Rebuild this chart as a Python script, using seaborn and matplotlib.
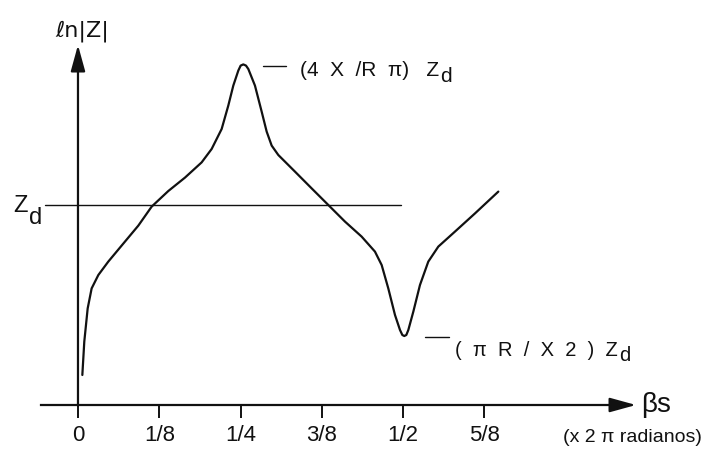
import matplotlib
matplotlib.use("Agg")
import matplotlib.pyplot as plt
import seaborn as sns
import pandas as pd

# Impedance magnitude along the line (beta*s in units of 2*pi radians)
beta_s = [0.0067, 0.0097, 0.0149, 0.0210, 0.0313, 0.0466, 0.0671, 0.0928, 0.1133, 0.1389,
          0.1645, 0.1901, 0.2055, 0.2209, 0.2311, 0.2388, 0.2465, 0.2501, 0.2542, 0.2583,
          0.2619, 0.2721, 0.2824, 0.2901, 0.2978, 0.3080, 0.3336, 0.3593, 0.3849, 0.4105,
          0.4361, 0.4566, 0.4669, 0.4771, 0.4874, 0.4951, 0.4987, 0.5017, 0.5048, 0.5079,
          0.5156, 0.5258, 0.5386, 0.5540, 0.5796, 0.6104, 0.6463]
ln_z = [0.150, 0.317, 0.483, 0.583, 0.650, 0.717, 0.797, 0.897, 0.992, 1.070,
        1.137, 1.213, 1.280, 1.380, 1.497, 1.597, 1.672, 1.697, 1.703, 1.697,
        1.680, 1.597, 1.467, 1.367, 1.297, 1.250, 1.167, 1.083, 1.000, 0.917,
        0.842, 0.767, 0.700, 0.583, 0.450, 0.375, 0.350, 0.345, 0.350, 0.375,
        0.467, 0.600, 0.717, 0.792, 0.867, 0.958, 1.067]

zd_level = 1.0
tick_pos = [0, 1/8, 1/4, 3/8, 1/2, 5/8]
tick_labels = ["0", "1/8", "1/4", "3/8", "1/2", "5/8"]

sns.set_style("white")
plt.rcParams["font.family"] = ["Liberation Sans", "DejaVu Sans"]

ink = "#111111"
fig = plt.figure(figsize=(7.04, 4.5), dpi=100)
ax = fig.add_axes([0, 0, 1, 1])
ax.set_xlim(-0.1199, 0.9625)
ax.set_ylim(-0.225, 2.025)

df = pd.DataFrame({"beta_s": beta_s, "ln_z": ln_z})
sns.lineplot(data=df, x="beta_s", y="ln_z", ax=ax, color=ink, lw=1.6,
             estimator=None, sort=False)
ax.lines[-1].set_solid_joinstyle("round")

# reference level Zd
ax.plot([-0.051, 0.497], [zd_level, zd_level], color=ink, lw=1.0)

# axes drawn through the origin
for s in ["top", "right", "left"]:
    ax.spines[s].set_visible(False)
ax.spines["bottom"].set_position(("data", 0))
ax.spines["bottom"].set_bounds(-0.057, 0.84)
ax.spines["bottom"].set_color(ink)
ax.spines["bottom"].set_linewidth(1.6)
ax.set_xticks(tick_pos)
ax.set_xticklabels(tick_labels)
ax.tick_params(axis="x", direction="out", length=9.5, width=1.4, color=ink,
               labelsize=16, pad=5, labelcolor=ink, bottom=True)
ax.set_yticks([])
ax.set_xlabel("")
ax.set_ylabel("")

arrow_kw = dict(arrowstyle="-|>,head_length=0.8,head_width=0.22",
                mutation_scale=20, lw=1.6, color=ink, shrinkA=0, shrinkB=0)
ax.annotate("", xy=(0.858, 0.0), xytext=(0.83, 0.0), arrowprops=arrow_kw)
ax.annotate("", xy=(0.0, 1.8), xytext=(0.0, -0.005), arrowprops=arrow_kw)

ax.text(0.006, 1.87, "ℓn|Z|", fontsize=16, ha="center", va="center",
        color=ink, family=["DejaVu Sans"])
ax.text(0.866, 0.0, "βs", fontsize=20, ha="left", va="center", color=ink)
ax.text(0.852, -0.16, "(x 2 π radianos)", fontsize=14, ha="center",
        va="center", color=ink)


def z_sub_d(x, y, prefix, size, drop):
    """Write prefix + 'Z' followed by a lowered, full-size 'd'."""
    t = ax.text(x, y, prefix + "Z", fontsize=size, ha="left", va="center",
                color=ink)
    ax.annotate("d", xy=(1, 0), xycoords=t, xytext=(1, -drop),
                textcoords="offset points", fontsize=size, ha="left",
                va="baseline", color=ink)
    return t


z_sub_d(-0.099, 0.995, "", 17, 5)

# marked extremes
ax.plot([0.284, 0.320], [1.695, 1.695], color=ink, lw=1.0)
z_sub_d(0.3413, 1.675, "(4  X  /R  π)   ", 15, 2)
ax.plot([0.534, 0.570], [0.34, 0.34], color=ink, lw=1.0)
z_sub_d(0.5796, 0.272, "(  π  R  /  X  2  )  ", 14.5, 1)

fig.savefig("out.png", dpi=100)
